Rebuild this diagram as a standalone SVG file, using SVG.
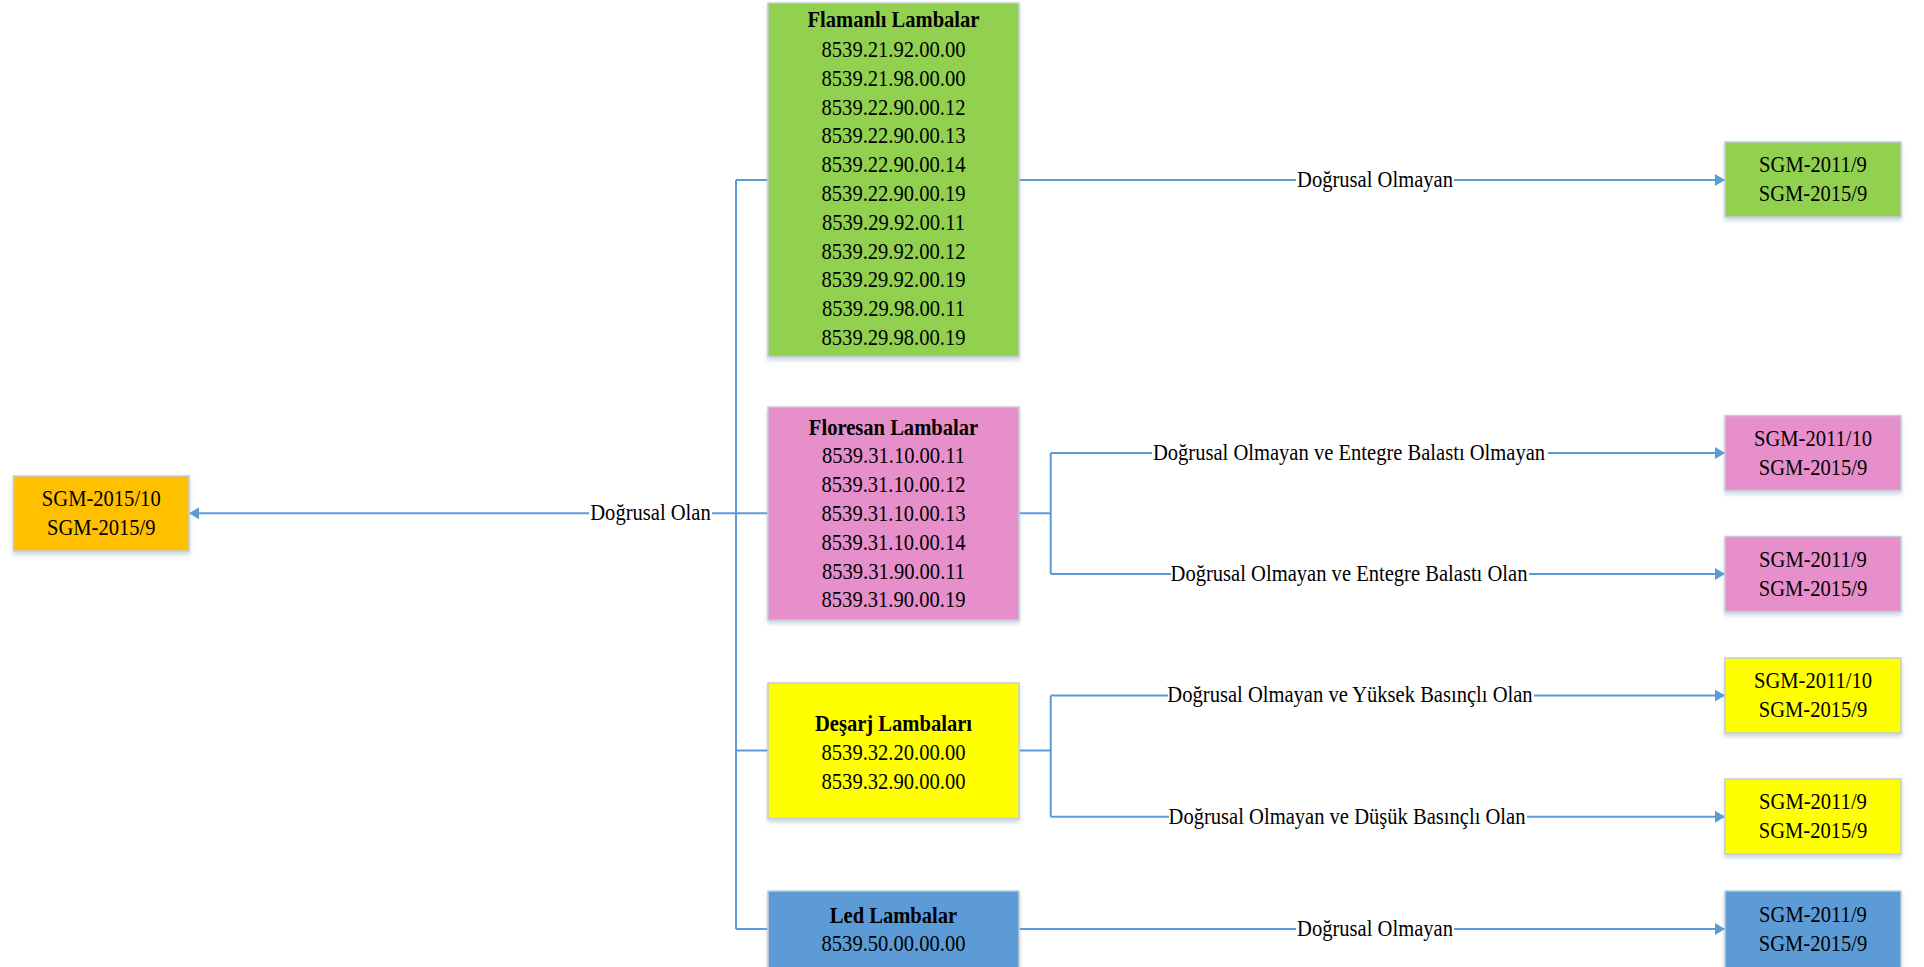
<svg xmlns="http://www.w3.org/2000/svg" width="1924" height="967" viewBox="0 0 1924 967">
<style>
.t{font-family:"Liberation Serif","Times New Roman",serif;font-size:23.5px;fill:#000;text-anchor:middle}
.b{font-weight:bold}
.box{stroke:#c5ccd6;stroke-width:1.5;filter:url(#sh)}
.c{fill:none;stroke:#5B9BD5;stroke-width:2}
.a{marker-end:url(#ar)}
</style>
<defs>
<filter id="sh" x="-10%" y="-10%" width="120%" height="130%">
<feDropShadow dx="0" dy="3" stdDeviation="2" flood-color="#9fb4cf" flood-opacity="0.55"/>
</filter>
<marker id="ar" markerUnits="userSpaceOnUse" markerWidth="11" markerHeight="12" refX="10" refY="6" orient="auto">
<path d="M0,0 L10,6 L0,12 z" fill="#5B9BD5"/>
</marker>
</defs>
<rect width="1924" height="967" fill="#fff"/>

<g id="connectors">
<path class="c" d="M736 180 V929"/>
<path class="c" d="M736 180 H768 M736 750.5 H768 M736 929 H768"/>
<path class="c" d="M768 513.3 H712"/>
<path class="c a" d="M589 513.3 H189"/>
<path class="c" d="M1019 180 H1296"/>
<path class="c a" d="M1454 180 H1725"/>
<path class="c" d="M1019 513.3 H1050.7 M1050.7 453 V574 M1050.7 453 H1152 M1050.7 574 H1171"/>
<path class="c a" d="M1548 453 H1725"/>
<path class="c a" d="M1529 574 H1725"/>
<path class="c" d="M1019 750.5 H1050.7 M1050.7 695.5 V816.7 M1050.7 695.5 H1168 M1050.7 816.7 H1169"/>
<path class="c a" d="M1534 695.5 H1725"/>
<path class="c a" d="M1527 816.7 H1725"/>
<path class="c" d="M1019 929 H1296"/>
<path class="c a" d="M1454 929 H1725"/>
<g transform="translate(650.5 0) scale(0.875 1)"><text class="t" x="0" y="520.5">Doğrusal Olan</text></g>
<g transform="translate(1375 0) scale(0.875 1)"><text class="t" x="0" y="187">Doğrusal Olmayan</text></g>
<g transform="translate(1349 0) scale(0.875 1)"><text class="t" x="0" y="460">Doğrusal Olmayan ve Entegre Balastı Olmayan</text></g>
<g transform="translate(1349 0) scale(0.875 1)"><text class="t" x="0" y="581">Doğrusal Olmayan ve Entegre Balastı Olan</text></g>
<g transform="translate(1350 0) scale(0.875 1)"><text class="t" x="0" y="702.5">Doğrusal Olmayan ve Yüksek Basınçlı Olan</text></g>
<g transform="translate(1347 0) scale(0.875 1)"><text class="t" x="0" y="823.7">Doğrusal Olmayan ve Düşük Basınçlı Olan</text></g>
<g transform="translate(1375 0) scale(0.875 1)"><text class="t" x="0" y="936">Doğrusal Olmayan</text></g>
</g>

<g id="n-orange">
<rect class="box" x="13.5" y="476" width="175.5" height="75" fill="#FFC000"/>
<g transform="translate(101.25 0) scale(0.875 1)">
<text class="t" x="0" y="506">SGM-2015/10</text>
<text class="t" x="0" y="535">SGM-2015/9</text>
</g>
</g>

<g id="n-flamanli">
<rect class="box" x="768" y="3" width="251" height="353.5" fill="#92D050"/>
<g transform="translate(893.5 0) scale(0.875 1)">
<text class="t b" x="0" y="27">Flamanlı Lambalar</text>
<text class="t" x="0" y="57">8539.21.92.00.00</text>
<text class="t" x="0" y="85.8">8539.21.98.00.00</text>
<text class="t" x="0" y="114.6">8539.22.90.00.12</text>
<text class="t" x="0" y="143.4">8539.22.90.00.13</text>
<text class="t" x="0" y="172.2">8539.22.90.00.14</text>
<text class="t" x="0" y="201">8539.22.90.00.19</text>
<text class="t" x="0" y="229.8">8539.29.92.00.11</text>
<text class="t" x="0" y="258.6">8539.29.92.00.12</text>
<text class="t" x="0" y="287.4">8539.29.92.00.19</text>
<text class="t" x="0" y="316.2">8539.29.98.00.11</text>
<text class="t" x="0" y="345">8539.29.98.00.19</text>
</g>
</g>

<g id="n-floresan">
<rect class="box" x="768" y="407" width="251" height="213" fill="#E78FCB"/>
<g transform="translate(893.5 0) scale(0.875 1)">
<text class="t b" x="0" y="435">Floresan Lambalar</text>
<text class="t" x="0" y="463.5">8539.31.10.00.11</text>
<text class="t" x="0" y="492.3">8539.31.10.00.12</text>
<text class="t" x="0" y="521.1">8539.31.10.00.13</text>
<text class="t" x="0" y="549.9">8539.31.10.00.14</text>
<text class="t" x="0" y="578.7">8539.31.90.00.11</text>
<text class="t" x="0" y="607.5">8539.31.90.00.19</text>
</g>
</g>

<g id="n-desarj">
<rect class="box" x="768" y="683" width="251" height="135.5" fill="#FFFF00"/>
<g transform="translate(893.5 0) scale(0.875 1)">
<text class="t b" x="0" y="731">Deşarj Lambaları</text>
<text class="t" x="0" y="760">8539.32.20.00.00</text>
<text class="t" x="0" y="789">8539.32.90.00.00</text>
</g>
</g>

<g id="n-led">
<rect class="box" x="768" y="891" width="251" height="82" fill="#5B9BD5"/>
<g transform="translate(893.5 0) scale(0.875 1)">
<text class="t b" x="0" y="923">Led Lambalar</text>
<text class="t" x="0" y="951">8539.50.00.00.00</text>
</g>
</g>

<g id="n-r1">
<rect class="box" x="1725" y="142" width="176" height="75" fill="#92D050"/>
<g transform="translate(1813 0) scale(0.875 1)">
<text class="t" x="0" y="172">SGM-2011/9</text>
<text class="t" x="0" y="201">SGM-2015/9</text>
</g>
</g>

<g id="n-r2">
<rect class="box" x="1725" y="415.5" width="176" height="75" fill="#E78FCB"/>
<g transform="translate(1813 0) scale(0.875 1)">
<text class="t" x="0" y="445.6">SGM-2011/10</text>
<text class="t" x="0" y="474.6">SGM-2015/9</text>
</g>
</g>

<g id="n-r3">
<rect class="box" x="1725" y="536.5" width="176" height="75" fill="#E78FCB"/>
<g transform="translate(1813 0) scale(0.875 1)">
<text class="t" x="0" y="566.6">SGM-2011/9</text>
<text class="t" x="0" y="595.6">SGM-2015/9</text>
</g>
</g>

<g id="n-r4">
<rect class="box" x="1725" y="658" width="176" height="75" fill="#FFFF00"/>
<g transform="translate(1813 0) scale(0.875 1)">
<text class="t" x="0" y="688">SGM-2011/10</text>
<text class="t" x="0" y="717">SGM-2015/9</text>
</g>
</g>

<g id="n-r5">
<rect class="box" x="1725" y="779" width="176" height="75" fill="#FFFF00"/>
<g transform="translate(1813 0) scale(0.875 1)">
<text class="t" x="0" y="809">SGM-2011/9</text>
<text class="t" x="0" y="838">SGM-2015/9</text>
</g>
</g>

<g id="n-r6">
<rect class="box" x="1725" y="891" width="176" height="82" fill="#5B9BD5"/>
<g transform="translate(1813 0) scale(0.875 1)">
<text class="t" x="0" y="921.6">SGM-2011/9</text>
<text class="t" x="0" y="950.6">SGM-2015/9</text>
</g>
</g>
</svg>
